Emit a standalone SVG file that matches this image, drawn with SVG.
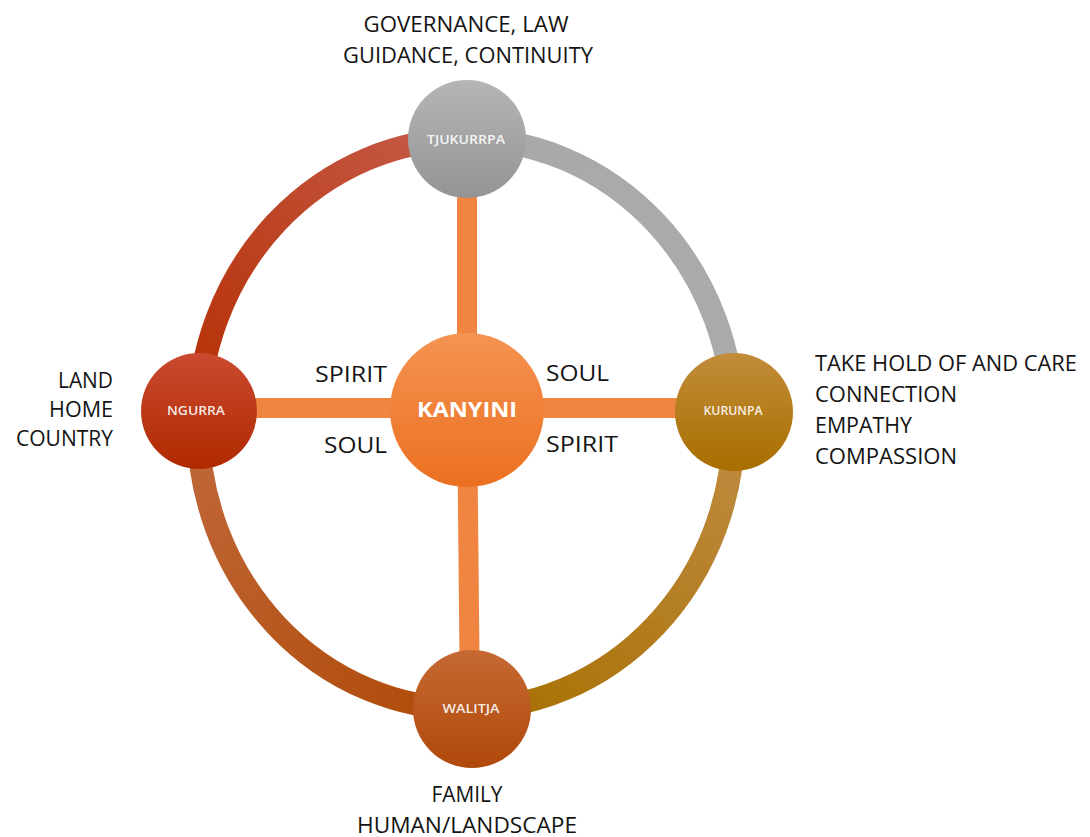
<svg xmlns="http://www.w3.org/2000/svg" width="1090" height="837" viewBox="0 0 1090 837">
  <style>
    .lbl { font-family: "Open Sans", "Liberation Sans", sans-serif; font-size: 21px; fill: #141414; }
    .mid { font-family: "Open Sans", "Liberation Sans", sans-serif; font-size: 22px; fill: #141414; }
    .node-t { font-family: "Open Sans", "Liberation Sans", sans-serif; font-size: 12px; font-weight: 600; fill: #ffffff; fill-opacity: 0.9; text-anchor: middle; }
    .core-t { font-family: "Open Sans", "Liberation Sans", sans-serif; font-size: 22px; font-weight: bold; fill: #ffffff; text-anchor: middle; }
    .arc { fill: none; stroke-width: 23; }
    .spoke { stroke: #f08441; stroke-width: 20; fill: none; }
  </style>
  <defs>
    <linearGradient id="gTL" gradientUnits="userSpaceOnUse" x1="466" y1="139" x2="198" y2="424">
      <stop offset="0" stop-color="#c65a48"/>
      <stop offset="1" stop-color="#b42f02"/>
    </linearGradient>
    <linearGradient id="gTR" gradientUnits="userSpaceOnUse" x1="466" y1="139" x2="734" y2="424">
      <stop offset="0" stop-color="#a9a9a9"/>
      <stop offset="1" stop-color="#ababab"/>
    </linearGradient>
    <linearGradient id="gBR" gradientUnits="userSpaceOnUse" x1="734" y1="424" x2="466" y2="709">
      <stop offset="0" stop-color="#bf8a40"/>
      <stop offset="1" stop-color="#a77000"/>
    </linearGradient>
    <linearGradient id="gBL" gradientUnits="userSpaceOnUse" x1="198" y1="424" x2="466" y2="709">
      <stop offset="0" stop-color="#c0683a"/>
      <stop offset="1" stop-color="#b04a08"/>
    </linearGradient>
    <linearGradient id="nGray" x1="0" y1="0" x2="0" y2="1">
      <stop offset="0" stop-color="#b6b6b6"/>
      <stop offset="1" stop-color="#949494"/>
    </linearGradient>
    <linearGradient id="nRed" x1="0" y1="0" x2="0" y2="1">
      <stop offset="0" stop-color="#ca4a30"/>
      <stop offset="1" stop-color="#b02a00"/>
    </linearGradient>
    <linearGradient id="nGold" x1="0" y1="0" x2="0" y2="1">
      <stop offset="0" stop-color="#c28d3a"/>
      <stop offset="1" stop-color="#a86e00"/>
    </linearGradient>
    <linearGradient id="nRust" x1="0" y1="0" x2="0" y2="1">
      <stop offset="0" stop-color="#c56933"/>
      <stop offset="1" stop-color="#b0490a"/>
    </linearGradient>
    <linearGradient id="nCore" x1="0" y1="0" x2="0" y2="1">
      <stop offset="0" stop-color="#f59352"/>
      <stop offset="1" stop-color="#eb7020"/>
    </linearGradient>
  </defs>

  <rect width="1090" height="837" fill="#ffffff"/>

  <!-- outer ring arcs and spokes -->
  <g id="connectors">
    <path class="arc" stroke="url(#gTL)" d="M466,139 A268,285 0 0 0 198,424"/>
    <path class="arc" stroke="url(#gTR)" d="M466,139 A268,285 0 0 1 734,424"/>
    <path class="arc" stroke="url(#gBR)" d="M734,424 A268,285 0 0 1 466,709"/>
    <path class="arc" stroke="url(#gBL)" d="M198,424 A268,285 0 0 0 466,709"/>
    <line class="spoke" x1="467" y1="139" x2="467" y2="410"/>
    <line class="spoke" x1="467" y1="410" x2="470" y2="709"/>
    <line class="spoke" x1="199" y1="408" x2="734" y2="408"/>
  </g>

  <g id="tjukurrpa">
    <circle cx="467" cy="139" r="59" fill="url(#nGray)"/>
    <text class="node-t" x="466" y="144" textLength="78" lengthAdjust="spacingAndGlyphs">TJUKURRPA</text>
  </g>

  <g id="ngurra">
    <circle cx="199" cy="411" r="58" fill="url(#nRed)"/>
    <text class="node-t" x="196" y="415" textLength="58" lengthAdjust="spacingAndGlyphs">NGURRA</text>
  </g>

  <g id="kurunpa">
    <circle cx="734" cy="412" r="59" fill="url(#nGold)"/>
    <text class="node-t" x="733" y="415" textLength="59" lengthAdjust="spacingAndGlyphs">KURUNPA</text>
  </g>

  <g id="walitja">
    <circle cx="472" cy="709" r="59" fill="url(#nRust)"/>
    <text class="node-t" x="471" y="713" textLength="57" lengthAdjust="spacingAndGlyphs">WALITJA</text>
  </g>

  <g id="kanyini">
    <circle cx="467" cy="410" r="77" fill="url(#nCore)"/>
    <text class="core-t" x="467" y="417" textLength="100" lengthAdjust="spacingAndGlyphs">KANYINI</text>
  </g>

  <!-- spoke labels -->
  <g id="spoke-labels">
    <text class="mid" x="315" y="382" textLength="72" lengthAdjust="spacingAndGlyphs">SPIRIT</text>
    <text class="mid" x="324" y="453" textLength="63" lengthAdjust="spacingAndGlyphs">SOUL</text>
    <text class="mid" x="546" y="381" textLength="63" lengthAdjust="spacingAndGlyphs">SOUL</text>
    <text class="mid" x="546" y="452" textLength="72" lengthAdjust="spacingAndGlyphs">SPIRIT</text>
  </g>

  <!-- descriptions beside each node -->
  <g id="desc-top" class="lbl" text-anchor="middle">
    <text x="466" y="32" textLength="205" lengthAdjust="spacingAndGlyphs">GOVERNANCE, LAW</text>
    <text x="468" y="63" textLength="250" lengthAdjust="spacingAndGlyphs">GUIDANCE, CONTINUITY</text>
  </g>
  <g id="desc-right" class="lbl">
    <text x="815" y="371" textLength="262" lengthAdjust="spacingAndGlyphs">TAKE HOLD OF AND CARE</text>
    <text x="815" y="402" textLength="142" lengthAdjust="spacingAndGlyphs">CONNECTION</text>
    <text x="815" y="433" textLength="97" lengthAdjust="spacingAndGlyphs">EMPATHY</text>
    <text x="815" y="464" textLength="142" lengthAdjust="spacingAndGlyphs">COMPASSION</text>
  </g>
  <g id="desc-left" class="lbl" text-anchor="end">
    <text x="113" y="388" textLength="55" lengthAdjust="spacingAndGlyphs">LAND</text>
    <text x="113" y="417" textLength="64" lengthAdjust="spacingAndGlyphs">HOME</text>
    <text x="113" y="446" textLength="97" lengthAdjust="spacingAndGlyphs">COUNTRY</text>
  </g>
  <g id="desc-bottom" class="lbl" text-anchor="middle">
    <text x="467" y="802" textLength="71" lengthAdjust="spacingAndGlyphs">FAMILY</text>
    <text x="467" y="833" textLength="220" lengthAdjust="spacingAndGlyphs">HUMAN/LANDSCAPE</text>
  </g>
</svg>
